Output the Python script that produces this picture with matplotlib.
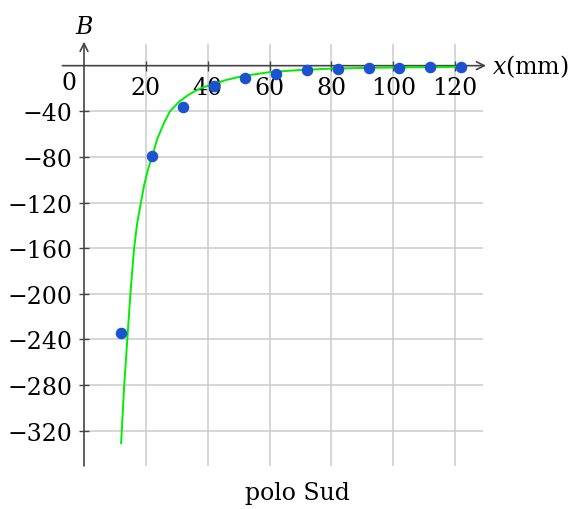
import matplotlib.pyplot as plt
import numpy as np

plt.rcParams['font.family'] = 'DejaVu Serif'
plt.rcParams['mathtext.fontset'] = 'dejavuserif'
plt.rcParams['font.size'] = 17

# measured field, polo Sud
x_mm = [12, 22, 32, 42, 52, 62, 72, 82, 92, 102, 112, 122]
B_meas = [-234, -79, -36, -18, -11, -7.6, -4, -2.6, -1.8, -2.0, -0.8, -0.8]

# fitted curve
x_fit = [12.0, 13.0, 14.0, 15.0, 16.2, 17.2, 18.4, 19.5, 20.8, 22.1, 23.7, 25.9,
         27.8, 30.8, 33.8, 37.5, 40.8, 46, 51.6, 60.2, 70, 80, 90, 100, 110, 122]
B_fit = [-331, -280, -240, -200, -160, -138, -120, -104, -90, -79, -64, -50,
         -40, -31.5, -25.5, -20, -17, -12.5, -9, -5.6, -3.8, -2.6, -2.0, -1.6,
         -1.3, -1.0]

xticks = [20, 40, 60, 80, 100, 120]
yticks = [-320, -280, -240, -200, -160, -120, -80, -40]

W, H = 574, 510
fig = plt.figure(figsize=(W / 100, H / 100), dpi=100)
ax = fig.add_axes([84 / W, 1 - 467 / H, (483 - 84) / W, (467 - 45) / H])
ax.set_xlim(0, 129)
ax.set_ylim(-351, 19)

axis_col = '#444444'
for s in ax.spines.values():
    s.set_color('none')
ax.spines['bottom'].set_position(('data', 0))
ax.spines['left'].set_position(('data', 0))

ax.set_xticks(xticks)
ax.set_yticks(yticks)
ax.tick_params(direction='inout', length=7, width=1, color=axis_col)
ax.tick_params(axis='x', pad=4)
ax.tick_params(axis='y', pad=5)
ax.grid(True, color='#cccccc', lw=1.1)
ax.set_axisbelow(True)

# axis lines with arrows
arrow = dict(arrowstyle='->', color=axis_col, lw=1.2, shrinkA=0, shrinkB=0,
             mutation_scale=14)
ax.annotate('', xy=(130, 0), xytext=(-7, 0), arrowprops=arrow,
            annotation_clip=False)
ax.annotate('', xy=(0, 21), xytext=(0, -351), arrowprops=arrow,
            annotation_clip=False)

ax.plot(x_fit, B_fit, color='#00ee00', lw=1.4, zorder=3)
ax.plot(x_mm, B_meas, 'o', color='#1a52d0', ms=7.3, zorder=4, clip_on=False)

fig.text(69 / W, 1 - 83 / H, '0', ha='center', va='center')
fig.text(84 / W, 1 - 27 / H, r'$B$', ha='center', va='center')
fig.text(492 / W, 1 - 67 / H, r'$x$(mm)', ha='left', va='center')
fig.text(297 / W, 1 - 494 / H, 'polo Sud', ha='center', va='center')

fig.savefig('out.png', dpi=100)
